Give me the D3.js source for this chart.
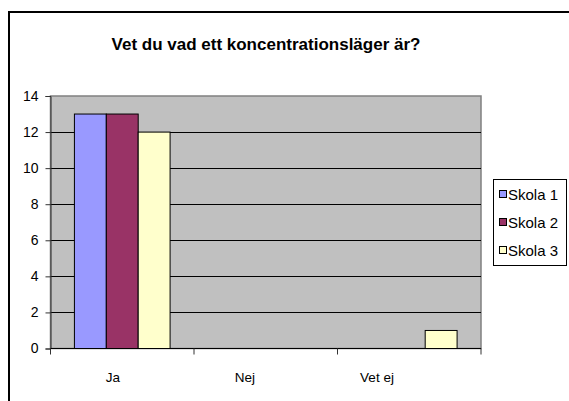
<!DOCTYPE html>
<html>
<head>
<meta charset="utf-8">
<script src="https://cdn.jsdelivr.net/npm/d3@7"></script>
<style>
  html, body { margin: 0; padding: 0; background: #fff; }
  svg { display: block; font-family: "Liberation Sans", Arial, sans-serif; }
</style>
</head>
<body>
<svg id="chart" width="569" height="401"></svg>
<script>
// data
const categories = ["Ja", "Nej", "Vet ej"];
const seriesNames = ["Skola 1", "Skola 2", "Skola 3"];
const skola1 = [13, 0, 0];
const skola2 = [13, 0, 0];
const skola3 = [12, 0, 1];
const yTicks = [0, 2, 4, 6, 8, 10, 12, 14];
const colors = ["#9999FF", "#993366", "#FFFFCC"];

const values = [skola1, skola2, skola3];

const svg = d3.select("#chart");

// outer chart frame (runs off the right and bottom edges)
svg.append("rect")
  .attr("x", 9).attr("y", 12)
  .attr("width", 580).attr("height", 420)
  .attr("fill", "#fff")
  .attr("stroke", "#000")
  .attr("stroke-width", 2);

svg.append("text")
  .attr("x", 266).attr("y", 50)
  .attr("text-anchor", "middle")
  .attr("font-size", "17px")
  .attr("font-weight", "bold")
  .text("Vet du vad ett koncentrationsläger är?");

const plot = { left: 50.5, right: 481, top: 96, bottom: 348.5 };

const x = d3.scaleBand()
  .domain(categories)
  .range([plot.left, plot.right]);

const xInner = d3.scaleBand()
  .domain(seriesNames)
  .range([0, x.bandwidth()])
  .paddingInner(0)
  .paddingOuter(0.75);

const y = d3.scaleLinear()
  .domain([0, 14])
  .range([plot.bottom, plot.top]);

// plot area
svg.append("rect")
  .attr("x", plot.left).attr("y", plot.top)
  .attr("width", plot.right - plot.left)
  .attr("height", plot.bottom - plot.top)
  .attr("fill", "#C0C0C0")
  .attr("stroke", "#808080")
  .attr("stroke-width", 1.5);

// gridlines
svg.append("g")
  .selectAll("line")
  .data(yTicks.filter(t => t > 0 && t < 14))
  .join("line")
  .attr("x1", plot.left).attr("x2", plot.right)
  .attr("y1", d => Math.round(y(d)) + 0.5)
  .attr("y2", d => Math.round(y(d)) + 0.5)
  .attr("stroke", "#000");

// bars
const groups = svg.append("g")
  .selectAll("g")
  .data(seriesNames)
  .join("g")
  .attr("fill", (d, i) => colors[i]);

groups.selectAll("rect")
  .data((s, si) => categories.map((c, ci) => ({ s, c, v: values[si][ci] })))
  .join("rect")
  .filter(d => d.v > 0)
  .attr("x", d => x(d.c) + xInner(d.s))
  .attr("y", d => y(d.v))
  .attr("width", xInner.bandwidth())
  .attr("height", d => y(0) - y(d.v))
  .attr("stroke", "#000")
  .attr("stroke-width", 1);

// y axis
const yAxis = svg.append("g")
  .attr("transform", `translate(${plot.left},0)`)
  .call(d3.axisLeft(y).tickValues(yTicks).tickSize(5).tickPadding(7));
yAxis.select(".domain").attr("stroke", "#333");
yAxis.selectAll(".tick line").attr("stroke", "#333");
yAxis.selectAll("text")
  .attr("font-size", "14px")
  .attr("font-family", "Liberation Sans, Arial, sans-serif")
  .attr("fill", "#000");

// x axis: line plus ticks at category boundaries
const xAxis = svg.append("g");
xAxis.append("line")
  .attr("x1", plot.left).attr("x2", plot.right)
  .attr("y1", plot.bottom).attr("y2", plot.bottom)
  .attr("stroke", "#000");
xAxis.selectAll(".xt")
  .data(categories.map(c => x(c)).concat([plot.right]))
  .join("line")
  .attr("class", "xt")
  .attr("x1", d => d).attr("x2", d => d)
  .attr("y1", plot.bottom).attr("y2", plot.bottom + 6)
  .attr("stroke", "#333");

// category labels (the reference places them slightly left of centre)
const xLabel = d3.scalePoint()
  .domain(categories)
  .range([113, 377]);
xAxis.selectAll(".xl")
  .data(categories)
  .join("text")
  .attr("class", "xl")
  .attr("x", d => xLabel(d))
  .attr("y", 382)
  .attr("text-anchor", "middle")
  .attr("font-size", "13.5px")
  .text(d => d);

// legend
const legend = svg.append("g");
legend.append("rect")
  .attr("x", 493.5).attr("y", 179.5)
  .attr("width", 73).attr("height", 86)
  .attr("fill", "#fff")
  .attr("stroke", "#000");

const li = legend.selectAll(".li")
  .data(seriesNames)
  .join("g")
  .attr("class", "li")
  .attr("transform", (d, i) => `translate(0, ${i * 28})`);
li.append("rect")
  .attr("x", 499.5).attr("y", 190.5)
  .attr("width", 7).attr("height", 7)
  .attr("fill", (d, i) => colors[i])
  .attr("stroke", "#000");
li.append("text")
  .attr("x", 508).attr("y", 200)
  .attr("font-size", "15px")
  .text(d => d);
</script>
</body>
</html>
